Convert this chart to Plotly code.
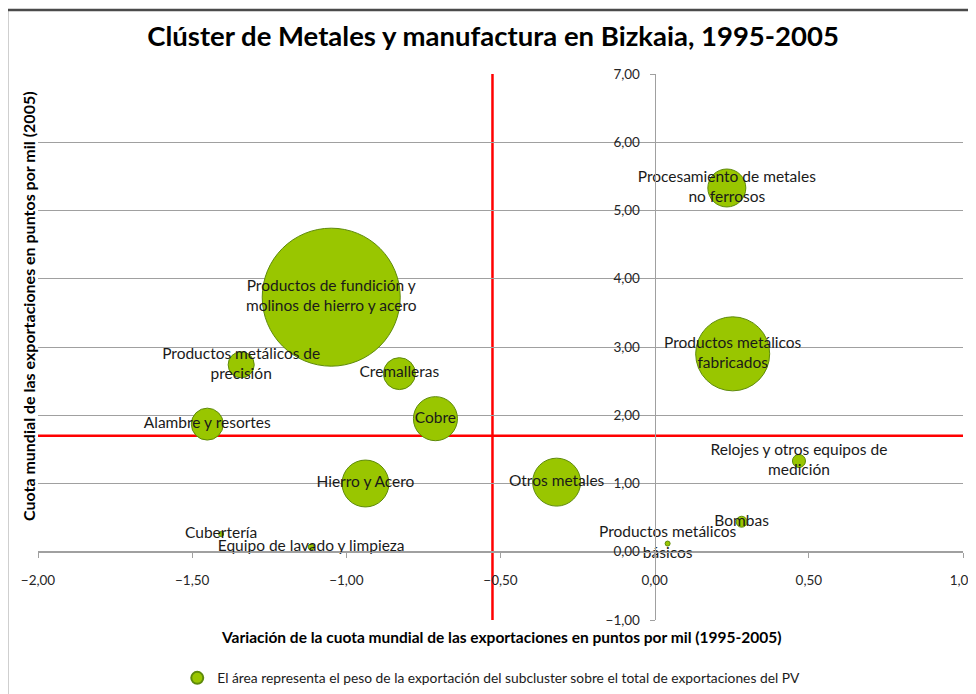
import plotly.graph_objects as go

# ---- data ----
subclusters = [
    "Productos de fundición y<br>molinos de hierro y acero",
    "Productos metálicos de<br>precisión",
    "Cremalleras",
    "Cobre",
    "Alambre y resortes",
    "Procesamiento de metales<br>no ferrosos",
    "Productos metálicos<br>fabricados",
    "Hierro y Acero",
    "Otros metales",
    "Relojes y otros equipos de<br>medición",
    "Bombas",
    "Productos metálicos<br>básicos",
    "Cubertería",
    "Equipo de lavado y limpieza",
]
variacion_cuota = [-1.049, -1.341, -0.828, -0.711, -1.451, 0.234, 0.253,
                   -0.938, -0.318, 0.468, 0.282, 0.042, -1.406, -1.114]
cuota_2005 = [3.73, 2.74, 2.61, 1.95, 1.87, 5.33, 2.90,
              1.00, 1.02, 1.33, 0.44, 0.12, 0.26, 0.07]
peso_export = [9.52, 0.34, 0.51, 0.97, 0.51, 0.72, 2.74,
               1.10, 1.15, 0.085, 0.06, 0.0125, 0.0125, 0.018]
media_x = -0.526
media_y = 1.70
x_ticks = [-2.0, -1.5, -1.0, -0.5, 0.0, 0.5, 1.0]
y_ticks = [-1, 0, 1, 2, 3, 4, 5, 6, 7]
legend_text = "El área representa el peso de la exportación del subcluster sobre el total de exportaciones del PV"

FONT = "Lato"
GREEN = "#99C600"
EDGE = "#5E8A0A"
GRID = "#A0A0A0"

max_diam = 138
sizeref = 2.0 * max(peso_export) / (max_diam ** 2)

fig = go.Figure()
fig.add_trace(go.Scatter(
    x=variacion_cuota, y=cuota_2005, mode="markers+text",
    text=subclusters, textposition="middle center",
    textfont=dict(family=FONT, size=15.5, color="#1a1a1a"),
    marker=dict(size=peso_export, sizemode="area", sizeref=sizeref,
                color=GREEN, opacity=1, line=dict(color=EDGE, width=1)),
    showlegend=False, hoverinfo="skip", cliponaxis=False,
))
fig.add_trace(go.Scatter(
    x=[None], y=[None], mode="markers", name=legend_text,
    marker=dict(size=10, color=GREEN, line=dict(color=EDGE, width=1)),
    showlegend=True,
))

# red reference lines
fig.add_shape(type="line", xref="x", yref="y", x0=media_x, x1=media_x,
              y0=y_ticks[0], y1=y_ticks[-1], line=dict(color="#FF0000", width=2.5), layer="below")
fig.add_shape(type="line", xref="x", yref="y", x0=x_ticks[0], x1=x_ticks[-1],
              y0=media_y, y1=media_y, line=dict(color="#FF0000", width=2.5), layer="below")

# outer chart border
fig.add_shape(type="rect", xref="paper", yref="paper",
              x0=-0.0335, x1=1.03, y0=-0.16, y1=1.117,
              line=dict(color="#4a4a4a", width=2.5), fillcolor="rgba(0,0,0,0)", layer="above")

fig.update_xaxes(
    range=[x_ticks[0], x_ticks[-1]], tickvals=x_ticks, tickformat=".2f",
    showgrid=False, zeroline=False, showline=True, linecolor=GRID, linewidth=1,
    ticks="outside", ticklen=5, tickcolor=GRID,
    anchor="free", position=1/8, ticklabelstandoff=11,
    tickfont=dict(family=FONT, size=13.5, color="#262626"),
)
fig.update_yaxes(
    range=[y_ticks[0], y_ticks[-1]], tickvals=y_ticks, tickformat=".2f",
    showgrid=True, gridcolor=GRID, gridwidth=1, zeroline=False,
    showline=True, linecolor=GRID, linewidth=1,
    ticks="outside", ticklen=5, tickcolor=GRID,
    anchor="free", position=2/3, ticklabelstandoff=7,
    tickfont=dict(family=FONT, size=13.5, color="#262626"),
)

fig.add_annotation(text="Variación de la cuota mundial de las exportaciones en puntos por mil (1995-2005)",
                   xref="paper", yref="paper", x=0.501, y=-0.031, showarrow=False,
                   xanchor="center", yanchor="middle",
                   font=dict(family=FONT, size=15.5, color="#000000", weight="bold"))
fig.add_annotation(text="Cuota mundial de las exportaciones en puntos por mil (2005)",
                   xref="paper", yref="paper", x=-0.0108, y=0.575, showarrow=False,
                   textangle=-90, xanchor="center", yanchor="middle",
                   font=dict(family=FONT, size=16, color="#000000", weight="bold"))

fig.update_layout(
    width=976, height=694,
    margin=dict(l=30, r=21, t=66, b=82, autoexpand=False),
    paper_bgcolor="white", plot_bgcolor="white",
    separators=",.",
    title=dict(text="<b>Clúster de Metales y manufactura en Bizkaia, 1995-2005</b>",
               x=0.497, xanchor="center", xref="container",
               y=0.9597, yanchor="middle", yref="container",
               font=dict(family=FONT, size=27.5, color="#000000")),
    legend=dict(orientation="h", x=0.49, xanchor="center", y=-0.106, yanchor="middle",
                font=dict(family=FONT, size=13.8, color="#1a1a1a"),
                itemsizing="constant", bgcolor="rgba(0,0,0,0)"),
    font=dict(family=FONT),
)

fig.write_html("out.html")
